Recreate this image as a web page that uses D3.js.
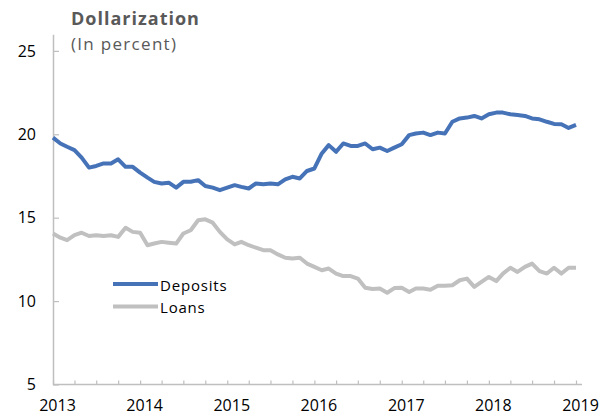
<!DOCTYPE html>
<html>
<head>
<meta charset="utf-8">
<script src="https://cdn.jsdelivr.net/npm/d3@7"></script>
<style>
  body { margin: 0; background: #fff; }
  text { font-family: "Open Sans", "Noto Sans", sans-serif; }
</style>
</head>
<body>
<div id="chart"></div>
<script>
// dimensions
const w = 608;
const h = 416;

// data: monthly, Jan 2013 -> Jan 2019
const startMonth = new Date(2013, 0, 1);
const endMonth = new Date(2019, 0, 1);
const yTicks = [5, 10, 15, 20, 25];
const seriesNames = ["Deposits", "Loans"];

const deposits = [19.8, 19.45, 19.25, 19.05, 18.6, 18.0, 18.1, 18.25, 18.25, 18.5, 18.05, 18.05,
  17.7, 17.4, 17.15, 17.05, 17.1, 16.8, 17.15, 17.15, 17.25, 16.9, 16.8, 16.65,
  16.8, 16.95, 16.85, 16.75, 17.05, 17.0, 17.05, 17.0, 17.3, 17.45, 17.35, 17.8,
  17.95, 18.85, 19.35, 18.95, 19.45, 19.3, 19.3, 19.45, 19.1, 19.2, 19.0, 19.2,
  19.4, 19.95, 20.05, 20.1, 19.95, 20.1, 20.05, 20.75, 20.95, 21.0, 21.1, 20.95,
  21.2, 21.3, 21.3, 21.2, 21.15, 21.1, 20.95, 20.9, 20.75, 20.62, 20.6, 20.38,
  20.56];

const loans = [14.05, 13.8, 13.65, 13.95, 14.1, 13.9, 13.95, 13.9, 13.95, 13.85, 14.4, 14.15,
  14.1, 13.35, 13.45, 13.55, 13.5, 13.45, 14.05, 14.25, 14.85, 14.9, 14.7, 14.15,
  13.7, 13.4, 13.55, 13.35, 13.2, 13.05, 13.05, 12.8, 12.6, 12.55, 12.6, 12.25,
  12.05, 11.85, 11.95, 11.65, 11.5, 11.5, 11.35, 10.8, 10.72, 10.75, 10.5, 10.78,
  10.8, 10.55, 10.75, 10.75, 10.68, 10.92, 10.92, 10.95, 11.25, 11.35, 10.85, 11.15,
  11.45, 11.2, 11.65, 12.0, 11.75, 12.05, 12.25, 11.8, 11.65, 12.0, 11.65, 12.0,
  12.0];

const months = d3.timeMonth.range(startMonth, d3.timeMonth.offset(endMonth, 1));

// svg
const svg = d3.select("#chart")
    .append("svg")
    .attr("width", w)
    .attr("height", h)
    .style("background", "#fff");

// scales
let xScale = d3.scaleTime()
    .domain([startMonth, endMonth])
    .range([53, 576]);

let yScale = d3.scaleLinear()
    .domain([5, 26])
    .range([384.5, 34.2]);

// axes
const axisColor = "#bfbfbf";

let axeY = d3.axisLeft(yScale)
    .tickValues(yTicks)
    .tickSizeInner(-6)
    .tickSizeOuter(0)
    .tickPadding(17);

let gy = svg.append("g")
    .attr("transform", "translate(53,0)")
    .call(axeY);
gy.select(".domain").attr("stroke", axisColor).attr("stroke-width", 1.5);
gy.selectAll(".tick line").attr("stroke", axisColor).attr("stroke-width", 1.2);
gy.selectAll(".tick text")
    .attr("font-size", "16px")
    .attr("fill", "#000")
    .attr("font-family", "'Open Sans', sans-serif");

let axeX = d3.axisBottom(xScale)
    .ticks(d3.timeMonth.every(3))
    .tickSizeInner(-4)
    .tickSizeOuter(0)
    .tickPadding(15)
    .tickFormat(d => d.getMonth() == 0 ? d.getFullYear() : "");

let gx = svg.append("g")
    .attr("transform", "translate(0," + yScale(5) + ")")
    .call(axeX);
gx.select(".domain").remove();
gx.append("line")
    .attr("x1", xScale(startMonth))
    .attr("x2", xScale(endMonth) + 6)
    .attr("stroke", axisColor)
    .attr("stroke-width", 1.5);
gx.selectAll(".tick line").attr("stroke", axisColor).attr("stroke-width", 1.2);
gx.selectAll(".tick text")
    .attr("x", 4)
    .attr("font-size", "16px")
    .attr("fill", "#000")
    .attr("font-family", "'Open Sans', sans-serif");

// lines
let line = d3.line()
    .x((d, i) => xScale(months[i]))
    .y(d => yScale(d));

svg.append("path")
    .datum(loans)
    .attr("d", line)
    .attr("fill", "none")
    .attr("stroke", "#c0c0c0")
    .attr("stroke-width", 4)
    .attr("stroke-linejoin", "round");

svg.append("path")
    .datum(deposits)
    .attr("d", line)
    .attr("fill", "none")
    .attr("stroke", "#4673b8")
    .attr("stroke-width", 4)
    .attr("stroke-linejoin", "round");

// title
svg.append("text")
    .attr("x", 71)
    .attr("y", 25)
    .attr("font-size", "18px")
    .attr("font-weight", "bold")
    .attr("letter-spacing", "1px")
    .attr("fill", "#595959")
    .text("Dollarization");

svg.append("text")
    .attr("x", 71)
    .attr("y", 50)
    .attr("font-size", "17px")
    .attr("letter-spacing", "1.3px")
    .attr("fill", "#595959")
    .text("(In percent)");

// legend
const legendColors = ["#4673b8", "#c0c0c0"];
let legend = svg.selectAll(".legend")
    .data(seriesNames)
    .enter()
    .append("g")
    .attr("class", "legend")
    .attr("transform", (d, i) => "translate(113," + (284 + i * 22.5) + ")");

legend.append("line")
    .attr("x1", 0)
    .attr("x2", 45)
    .attr("stroke", (d, i) => legendColors[i])
    .attr("stroke-width", 4);

legend.append("text")
    .attr("x", 47)
    .attr("y", 6.5)
    .attr("font-size", "15px")
    .attr("letter-spacing", "0.8px")
    .attr("fill", "#000")
    .text(d => d);
</script>
</body>
</html>
